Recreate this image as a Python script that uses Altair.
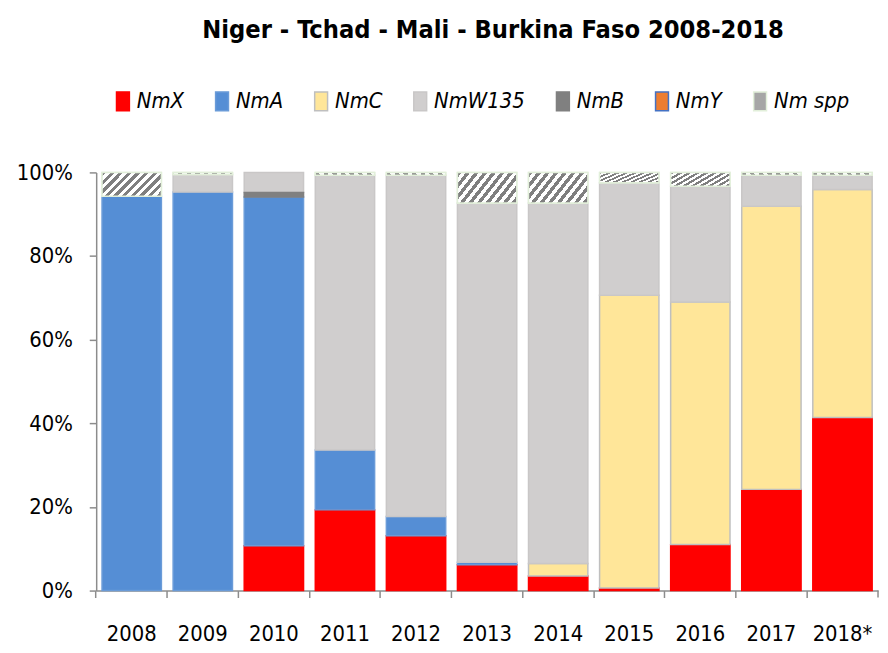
import altair as alt
import pandas as pd

years = ["2008", "2009", "2010", "2011", "2012", "2013", "2014", "2015", "2016", "2017", "2018*"]
nmx = [0, 0, 10.7, 19.3, 13.1, 6.2, 3.5, 0.6, 11.0, 24.2, 41.4]
nma = [94.3, 95.3, 83.4, 14.3, 4.6, 0.6, 0, 0, 0, 0, 0]
nmc = [0, 0, 0, 0, 0, 0, 3.0, 70.0, 58.0, 67.7, 54.5]
nmw135 = [0, 4.2, 4.8, 65.7, 81.6, 85.9, 86.2, 26.9, 27.7, 7.4, 3.4]
nmb = [0, 0, 1.1, 0, 0, 0, 0, 0, 0, 0, 0]
nmy = [0, 0, 0, 0, 0, 0, 0, 0, 0, 0, 0]
nmspp = [5.7, 0.5, 0, 0.7, 0.7, 7.3, 7.3, 2.5, 3.3, 0.7, 0.7]

legend_order = ["NmX", "NmA", "NmC", "NmW135", "NmB", "NmY", "Nm spp"]
fills = ["#ff0000", "#558ed5", "#ffe699", "#d0cece", "#808080", "#ed7d31", "#a6a6a6"]
strokes = ["#ff0000", "#6a9bd8", "#bfbfbf", "#c9c7c7", "#808080", "#4472c4", "#e2efda"]
stack_order = {"NmX": 0, "NmA": 1, "NmC": 2, "NmB": 3, "NmY": 4, "NmW135": 5, "Nm spp": 6}

series = {"NmX": nmx, "NmA": nma, "NmC": nmc, "NmW135": nmw135, "NmB": nmb, "NmY": nmy, "Nm spp": nmspp}
rows = []
for name, vals in series.items():
    for yr, v in zip(years, vals):
        if v > 0:
            rows.append({"year": yr, "serogroup": name, "value": v, "ord": stack_order[name]})
df = pd.DataFrame(rows)

FONT = "DejaVu Sans Condensed, sans-serif"
AXIS_GRAY = "#8c8c8c"

stops = []
n = 10
for i in range(n):
    a = i / n
    b = (i + 0.5) / n
    c = (i + 1) / n
    stops += [
        {"offset": a, "color": "#7f7f7f"},
        {"offset": b, "color": "#7f7f7f"},
        {"offset": b, "color": "#ffffff"},
        {"offset": c, "color": "#ffffff"},
    ]
hatch = {"gradient": "linear", "x1": 0, "y1": 0, "x2": 1.25, "y2": 0.5, "stops": stops}

xenc = alt.X(
    "year:N",
    sort=years,
    scale=alt.Scale(paddingInner=0, paddingOuter=0),
    axis=alt.Axis(
        title=None,
        bandPosition=0,
        labelAngle=0,
        labelFont=FONT,
        labelFontSize=22,
        labelColor="#000000",
        labelPadding=26,
        labelBaseline="top",
        tickSize=7,
        tickColor=AXIS_GRAY,
        tickWidth=1.5,
        domainColor=AXIS_GRAY,
        domainWidth=1.5,
    ),
)
yenc = alt.Y(
    "y0:Q",
    scale=alt.Scale(domain=[0, 1], nice=False),
    axis=alt.Axis(
        title=None,
        format="%",
        values=[0, 0.2, 0.4, 0.6, 0.8, 1.0],
        grid=False,
        labelFont=FONT,
        labelFontSize=22,
        labelColor="#000000",
        labelPadding=17,
        tickSize=7,
        tickColor=AXIS_GRAY,
        tickWidth=1.5,
        domainColor=AXIS_GRAY,
        domainWidth=1.5,
    ),
)

base = alt.Chart(df).transform_stack(
    stack="value",
    groupby=["year"],
    as_=["y0", "y1"],
    offset="normalize",
    sort=[alt.SortField("ord", order="ascending")],
)

legend = alt.Legend(
    title=None,
    orient="none",
    legendX=16,
    legendY=-83,
    direction="horizontal",
    labelFont=FONT,
    labelFontSize=22,
    labelFontStyle="italic",
    labelColor="#000000",
    labelOffset=3,
    symbolType="M-0.65,-0.95H0.65V0.95H-0.65Z",
    symbolSize=400,
    symbolStrokeWidth=1.5,
    symbolOpacity=1,
    columnPadding=27,
)

bars = base.mark_bar(width=alt.RelativeBandSize(0.835), strokeWidth=1.5).encode(
    x=xenc,
    y=yenc,
    y2="y1:Q",
    color=alt.Color("serogroup:N", scale=alt.Scale(domain=legend_order, range=fills), legend=legend),
    stroke=alt.Stroke("serogroup:N", scale=alt.Scale(domain=legend_order, range=strokes), legend=legend),
)

hatched = base.transform_filter("datum.serogroup === 'Nm spp'").mark_bar(
    width=alt.RelativeBandSize(0.835), fill=hatch, stroke="#e2efda", strokeWidth=1.5
).encode(x=alt.X("year:N", sort=years), y="y0:Q", y2="y1:Q")

end_tick = alt.Chart(pd.DataFrame({"a": [0]})).mark_rule(color=AXIS_GRAY, strokeWidth=1.5).encode(
    x=alt.value(789), y=alt.value(422), y2=alt.value(429)
)

chart = alt.layer(bars, hatched, end_tick).properties(
    width=789,
    height=422,
    autosize="none",
    padding={"left": 89, "top": 163, "right": 2, "bottom": 52},
    title=alt.TitleParams(
        "Niger - Tchad - Mali - Burkina Faso 2008-2018",
        font=FONT,
        fontSize=25.5,
        fontWeight="bold",
        color="#000000",
        anchor="middle",
        offset=47,
        dx=6,
    ),
).configure_view(stroke=None).configure_scale(bandPaddingInner=0)

chart.save("out.html", embed_options={"renderer": "svg", "actions": False})
